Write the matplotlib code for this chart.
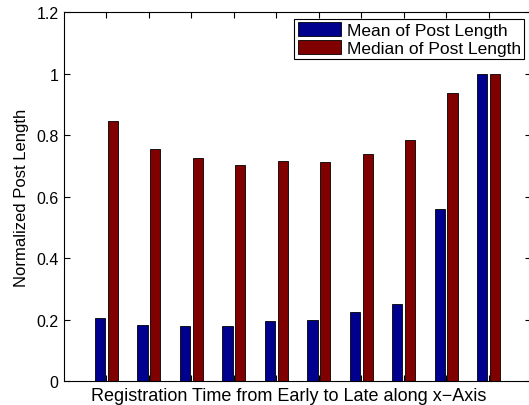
import numpy as np
import matplotlib.pyplot as plt

plt.rcParams['font.family'] = ['Liberation Sans', 'DejaVu Sans']

# normalized post length per registration-time group
groups = np.arange(1, 11)
mean_len = [0.204, 0.182, 0.178, 0.179, 0.196, 0.199, 0.225, 0.249, 0.561, 1.0]
median_len = [0.845, 0.754, 0.724, 0.701, 0.714, 0.711, 0.738, 0.784, 0.937, 1.0]

fig = plt.figure(figsize=(5.29, 4.06), dpi=100)
ax = fig.add_axes([0.121, 0.059, 0.883, 0.909])

w = 0.24
ax.bar(groups - 0.15, mean_len, w, color='#00008F', edgecolor='black', linewidth=0.6,
       label='Mean of Post Length')
ax.bar(groups + 0.15, median_len, w, color='#800000', edgecolor='black', linewidth=0.6,
       label='Median of Post Length')
ax.set_axisbelow(True)

ax.set_xlim(0, 11)
ax.set_ylim(0, 1.2)
ax.set_xticks(groups)
ax.set_xticklabels([])
ax.set_yticks([0, 0.2, 0.4, 0.6, 0.8, 1.0, 1.2])
ax.set_yticklabels(['0', '0.2', '0.4', '0.6', '0.8', '1', '1.2'])
ax.tick_params(direction='in', top=True, right=True, labelsize=11.5, length=4, pad=4)

# axis labels
ax.set_xlabel('Registration Time from Early to Late along x\u2212Axis', fontsize=13)
ax.xaxis.set_label_coords(0.482, -0.017)
ax.xaxis.label.set_va('top')
ax.set_ylabel('Normalized Post Length', fontsize=12, labelpad=5)

leg = ax.legend(loc='upper right', fontsize=12.5, fancybox=False, framealpha=1,
                edgecolor='black', handlelength=2.5, handleheight=0.85,
                borderpad=0.2, labelspacing=0.1, handletextpad=0.3,
                borderaxespad=0.4)
leg.get_frame().set_linewidth(0.8)

fig.savefig('out.png', dpi=100)
